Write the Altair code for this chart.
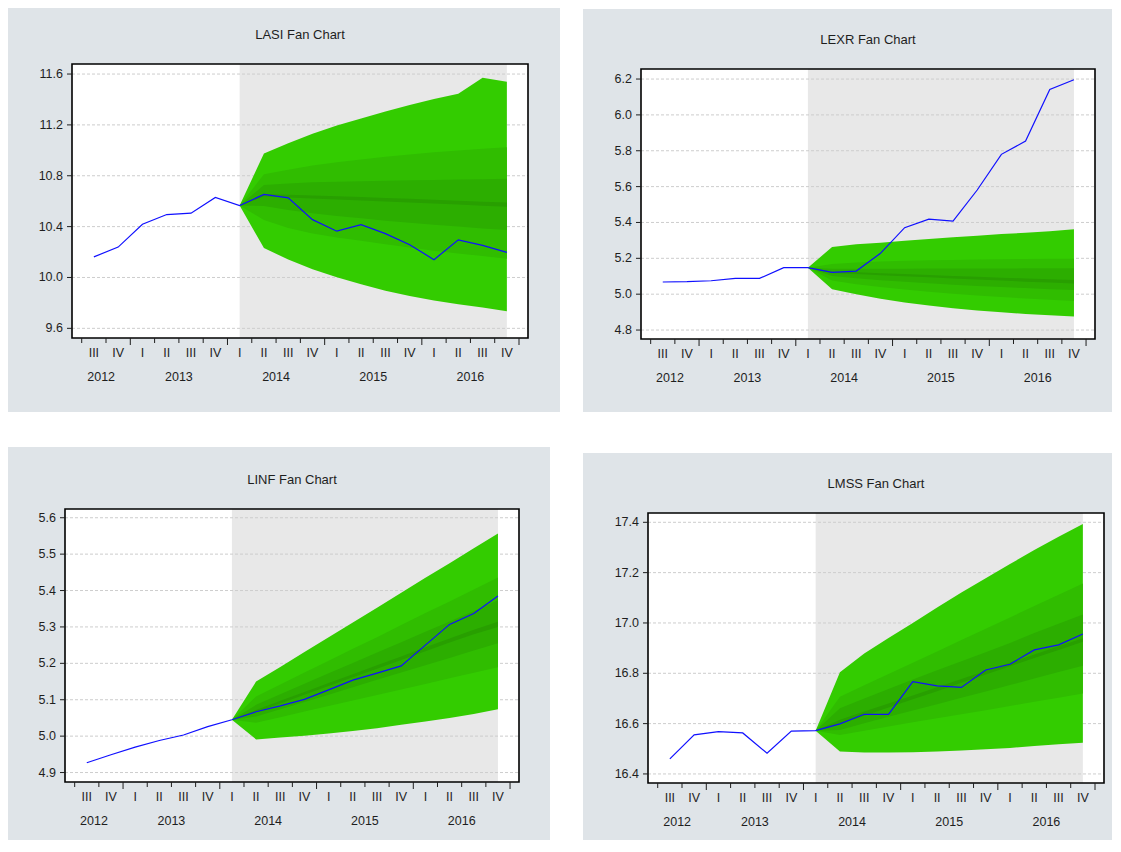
import altair as alt
import pandas as pd

# ---------------- data ----------------
QUARTERS = ["III", "IV", "I", "II", "III", "IV", "I", "II", "III", "IV",
            "I", "II", "III", "IV", "I", "II", "III", "IV"]
QUARTER_YEARS = ["2012", "2012", "2013", "2013", "2013", "2013", "2014", "2014", "2014", "2014",
                 "2015", "2015", "2015", "2015", "2016", "2016", "2016", "2016"]
YEAR_LABELS = ["2012", "2013", "2014", "2015", "2016"]
FORECAST_START = 6  # 2014 I

LASI = [10.162, 10.239, 10.419, 10.495, 10.506, 10.629, 10.566, 10.653, 10.626, 10.455,
        10.364, 10.416, 10.345, 10.258, 10.140, 10.296, 10.252, 10.198]
LASI_OUT_HI = [10.566, 10.976, 11.056, 11.130, 11.195, 11.250, 11.305, 11.357, 11.404, 11.445, 11.570, 11.540]
LASI_OUT_LO = [10.566, 10.232, 10.141, 10.065, 10.002, 9.946, 9.895, 9.854, 9.818, 9.790, 9.764, 9.735]
LASI_B2_HI = [10.566, 10.811, 10.847, 10.880, 10.906, 10.928, 10.950, 10.967, 10.985, 10.999, 11.012, 11.025]
LASI_B2_LO = [10.566, 10.452, 10.390, 10.346, 10.314, 10.288, 10.262, 10.236, 10.211, 10.189, 10.168, 10.148]
LASI_B3_HI = [10.566, 10.727, 10.740, 10.748, 10.753, 10.757, 10.761, 10.764, 10.767, 10.770, 10.773, 10.776]
LASI_B3_LO = [10.566, 10.562, 10.531, 10.505, 10.484, 10.465, 10.447, 10.430, 10.414, 10.400, 10.386, 10.374]
LASI_IN_HI = [10.566, 10.656, 10.651, 10.645, 10.639, 10.633, 10.626, 10.619, 10.611, 10.604, 10.596, 10.589]
LASI_IN_LO = [10.566, 10.636, 10.629, 10.621, 10.613, 10.605, 10.597, 10.589, 10.581, 10.573, 10.565, 10.557]

LEXR = [5.068, 5.070, 5.075, 5.088, 5.088, 5.148, 5.148, 5.122, 5.129, 5.228,
        5.371, 5.419, 5.408, 5.581, 5.780, 5.854, 6.142, 6.196]
LEXR_OUT_HI = [5.148, 5.263, 5.278, 5.287, 5.298, 5.308, 5.317, 5.326, 5.335, 5.343, 5.351, 5.362]
LEXR_OUT_LO = [5.148, 5.027, 4.999, 4.974, 4.954, 4.937, 4.922, 4.909, 4.899, 4.890, 4.882, 4.876]
LEXR_B2_HI = [5.148, 5.168, 5.177, 5.182, 5.186, 5.189, 5.191, 5.193, 5.195, 5.196, 5.197, 5.198]
LEXR_B2_LO = [5.148, 5.076, 5.056, 5.040, 5.026, 5.014, 5.003, 4.993, 4.984, 4.976, 4.969, 4.962]
LEXR_B3_HI = [5.148, 5.142, 5.142, 5.142, 5.142, 5.143, 5.143, 5.143, 5.143, 5.144, 5.144, 5.144]
LEXR_B3_LO = [5.148, 5.101, 5.089, 5.078, 5.069, 5.061, 5.053, 5.046, 5.040, 5.034, 5.028, 5.023]
LEXR_IN_HI = [5.148, 5.127, 5.122, 5.117, 5.112, 5.107, 5.102, 5.097, 5.092, 5.088, 5.083, 5.079]
LEXR_IN_LO = [5.148, 5.118, 5.112, 5.106, 5.100, 5.094, 5.088, 5.082, 5.076, 5.070, 5.065, 5.060]

LINF = [4.927, 4.949, 4.970, 4.988, 5.003, 5.026, 5.045, 5.067, 5.083, 5.101,
        5.127, 5.154, 5.173, 5.193, 5.250, 5.307, 5.337, 5.385]
LINF_OUT_HI = [5.045, 5.150, 5.190, 5.231, 5.272, 5.312, 5.353, 5.394, 5.435, 5.475, 5.516, 5.557]
LINF_OUT_LO = [5.045, 4.991, 4.996, 5.001, 5.007, 5.014, 5.022, 5.031, 5.040, 5.050, 5.061, 5.074]
LINF_B2_HI = [5.045, 5.109, 5.142, 5.175, 5.207, 5.240, 5.272, 5.305, 5.338, 5.370, 5.403, 5.436]
LINF_B2_LO = [5.045, 5.037, 5.052, 5.068, 5.083, 5.098, 5.113, 5.128, 5.143, 5.159, 5.174, 5.189]
LINF_B3_HI = [5.045, 5.086, 5.115, 5.144, 5.173, 5.201, 5.230, 5.258, 5.287, 5.315, 5.344, 5.373]
LINF_B3_LO = [5.045, 5.054, 5.074, 5.094, 5.114, 5.134, 5.155, 5.175, 5.195, 5.215, 5.235, 5.255]
LINF_IN_HI = [5.045, 5.072, 5.097, 5.121, 5.146, 5.170, 5.195, 5.219, 5.244, 5.268, 5.292, 5.314]
LINF_IN_LO = [5.045, 5.066, 5.090, 5.114, 5.138, 5.162, 5.185, 5.209, 5.233, 5.257, 5.280, 5.300]

LMSS = [16.460, 16.555, 16.568, 16.563, 16.482, 16.570, 16.572, 16.599, 16.637, 16.637,
        16.767, 16.750, 16.744, 16.813, 16.836, 16.893, 16.913, 16.956]
LMSS_OUT_HI = [16.572, 16.804, 16.879, 16.940, 17.000, 17.061, 17.121, 17.178, 17.234, 17.290, 17.343, 17.393]
LMSS_OUT_LO = [16.572, 16.489, 16.485, 16.485, 16.486, 16.489, 16.493, 16.498, 16.503, 16.511, 16.518, 16.524]
LMSS_B2_HI = [16.572, 16.707, 16.752, 16.797, 16.842, 16.887, 16.932, 16.977, 17.022, 17.067, 17.112, 17.157]
LMSS_B2_LO = [16.572, 16.555, 16.572, 16.589, 16.605, 16.621, 16.637, 16.653, 16.670, 16.687, 16.703, 16.720]
LMSS_B3_HI = [16.572, 16.661, 16.700, 16.738, 16.775, 16.812, 16.848, 16.884, 16.920, 16.960, 16.997, 17.034]
LMSS_B3_LO = [16.572, 16.575, 16.601, 16.627, 16.652, 16.677, 16.703, 16.728, 16.753, 16.779, 16.805, 16.830]
LMSS_IN_HI = [16.572, 16.615, 16.648, 16.680, 16.712, 16.745, 16.777, 16.810, 16.842, 16.875, 16.907, 16.939]
LMSS_IN_LO = [16.572, 16.598, 16.631, 16.664, 16.697, 16.729, 16.762, 16.795, 16.828, 16.861, 16.893, 16.925]

LASI_TICKS = [9.6, 10.0, 10.4, 10.8, 11.2, 11.6]
LEXR_TICKS = [4.8, 5.0, 5.2, 5.4, 5.6, 5.8, 6.0, 6.2]
LINF_TICKS = [4.9, 5.0, 5.1, 5.2, 5.3, 5.4, 5.5, 5.6]
LMSS_TICKS = [16.4, 16.6, 16.8, 17.0, 17.2, 17.4]

# ---------------- styles ----------------
FONT = "Liberation Sans"
TXT = "#1e1e1e"
BG = "#dfe4e8"
SHADE = "#e8e8e8"
GRID = "#cdcdcd"
LINE = "#1010ff"
BAND_COLORS = ["#33cc00", "#30bd00", "#2cae00", "#289f00"]
XDOM = [-0.9, 17.87]
QNUM = {"I": 1, "II": 2, "III": 3, "IV": 4}


def panel(title, values, bands, ydom, yticks, cell, frame, bg_top=0):
    """cell = (Wp, Hp) whole panel; frame = (fx, fy, W, H) plot frame inside the panel."""
    Wp, Hp = cell
    fx, fy, W, H = frame
    kx = (XDOM[1] - XDOM[0]) / W
    ky = (ydom[1] - ydom[0]) / H
    xs = alt.Scale(domain=[XDOM[0] - fx * kx, XDOM[1] + (Wp - fx - W) * kx], nice=False, zero=False)
    ys = alt.Scale(domain=[ydom[0] - (Hp - fy - H) * ky, ydom[1] + fy * ky], nice=False, zero=False)
    X = lambda f: alt.X(f, scale=xs, axis=None)
    Y = lambda f: alt.Y(f, scale=ys, axis=None)
    one = pd.DataFrame({"k": [0]})
    n = len(QUARTERS)
    layers = []
    # cell extent (invisible) and panel background
    layers.append(alt.Chart(one).mark_rect(fill="#ffffff", fillOpacity=0, opacity=0).encode(
        x=alt.value(0), x2=alt.value(Wp), y=alt.value(0), y2=alt.value(Hp)))
    layers.append(alt.Chart(one).mark_rect(fill=BG).encode(
        x=alt.value(0), x2=alt.value(Wp), y=alt.value(bg_top), y2=alt.value(Hp)))
    layers.append(alt.Chart(one).mark_rect(fill="white").encode(
        x=alt.value(fx), x2=alt.value(fx + W), y=alt.value(fy), y2=alt.value(fy + H)))
    # forecast shading
    shade = pd.DataFrame({"a": [FORECAST_START], "b": [n - 1]})
    layers.append(alt.Chart(shade).mark_rect(fill=SHADE).encode(
        x=X("a:Q"), x2="b:Q", y=alt.value(fy), y2=alt.value(fy + H)))
    # grid
    grid = pd.DataFrame({"v": yticks})
    layers.append(alt.Chart(grid).mark_rule(color=GRID, strokeDash=[3, 2], strokeWidth=1).encode(
        y=Y("v:Q"), x=alt.value(fx), x2=alt.value(fx + W)))
    # fan bands
    fc_idx = list(range(FORECAST_START, n))
    for bi, (lo, hi) in enumerate(bands):
        df = pd.DataFrame({"i": fc_idx, "lo": lo, "hi": hi})
        layers.append(alt.Chart(df).mark_area(color=BAND_COLORS[bi], opacity=1, interpolate="linear").encode(
            x=X("i:Q"), y=Y("lo:Q"), y2="hi:Q"))
    # actual series
    ln = pd.DataFrame({"i": list(range(n)), "v": values})
    layers.append(alt.Chart(ln).mark_line(color=LINE, strokeWidth=1.2).encode(x=X("i:Q"), y=Y("v:Q")))
    # frame
    layers.append(alt.Chart(one).mark_rect(fill="#ffffff", fillOpacity=0, stroke="black", strokeWidth=1.6).encode(
        x=alt.value(fx), x2=alt.value(fx + W), y=alt.value(fy), y2=alt.value(fy + H)))
    # y ticks and labels
    layers.append(alt.Chart(grid).mark_rule(color=TXT, strokeWidth=1).encode(
        y=Y("v:Q"), x=alt.value(fx - 5), x2=alt.value(fx)))
    layers.append(alt.Chart(grid).mark_text(font=FONT, fontSize=12.5, color=TXT, align="right", baseline="middle").encode(
        y=Y("v:Q"), x=alt.value(fx - 9), text=alt.Text("v:Q", format=".1f")))
    # x ticks
    q0 = QNUM[QUARTERS[0]]
    minor, major = [], []
    for k in range(n + 1):
        qn = (q0 - 1 + k) % 4 + 1
        (major if qn == 1 else minor).append(k - 0.5)
    layers.append(alt.Chart(pd.DataFrame({"t": minor})).mark_rule(color=TXT, strokeWidth=1).encode(
        x=X("t:Q"), y=alt.value(fy + H), y2=alt.value(fy + H + 5)))
    layers.append(alt.Chart(pd.DataFrame({"t": major})).mark_rule(color=TXT, strokeWidth=1).encode(
        x=X("t:Q"), y=alt.value(fy + H), y2=alt.value(fy + H + 7)))
    # quarter labels
    ql = pd.DataFrame({"i": list(range(n)), "q": QUARTERS})
    layers.append(alt.Chart(ql).mark_text(font=FONT, fontSize=12.5, color=TXT, baseline="middle", align="center").encode(
        x=X("i:Q"), y=alt.value(fy + H + 15), text="q:N"))
    # year labels, centred on each year's span clipped to the axis range
    ypos = []
    for yl in YEAR_LABELS:
        ks = [k for k, yy in enumerate(QUARTER_YEARS) if yy == yl]
        start = ks[0] - (QNUM[QUARTERS[ks[0]]] - 1) - 0.5
        end = start + 4
        ypos.append((max(start, XDOM[0]) + min(end, XDOM[1])) / 2)
    yl_df = pd.DataFrame({"x": ypos, "y": YEAR_LABELS})
    layers.append(alt.Chart(yl_df).mark_text(font=FONT, fontSize=12.5, color=TXT, baseline="middle", align="center").encode(
        x=X("x:Q"), y=alt.value(fy + H + 39), text="y:N"))
    # title
    layers.append(alt.Chart(pd.DataFrame({"t": [title]})).mark_text(
        font=FONT, fontSize=13, color=TXT, baseline="middle", align="center").encode(
        x=alt.value(fx + W / 2), y=alt.value(fy - 29), text="t:N"))
    return alt.layer(*layers).properties(width=Wp, height=Hp)


p1 = panel("LASI Fan Chart", LASI,
           [(LASI_OUT_LO, LASI_OUT_HI), (LASI_B2_LO, LASI_B2_HI), (LASI_B3_LO, LASI_B3_HI), (LASI_IN_LO, LASI_IN_HI)],
           [9.524, 11.679], LASI_TICKS, (552, 404), (64, 56, 456, 274))
p2 = panel("LEXR Fan Chart", LEXR,
           [(LEXR_OUT_LO, LEXR_OUT_HI), (LEXR_B2_LO, LEXR_B2_HI), (LEXR_B3_LO, LEXR_B3_HI), (LEXR_IN_LO, LEXR_IN_HI)],
           [4.750, 6.256], LEXR_TICKS, (529, 404), (58, 61, 454, 270), bg_top=1)
p3 = panel("LINF Fan Chart", LINF,
           [(LINF_OUT_LO, LINF_OUT_HI), (LINF_B2_LO, LINF_B2_HI), (LINF_B3_LO, LINF_B3_HI), (LINF_IN_LO, LINF_IN_HI)],
           [4.874, 5.624], LINF_TICKS, (542, 393), (57, 62, 454, 273))
p4 = panel("LMSS Fan Chart", LMSS,
           [(LMSS_OUT_LO, LMSS_OUT_HI), (LMSS_B2_LO, LMSS_B2_HI), (LMSS_B3_LO, LMSS_B3_HI), (LMSS_IN_LO, LMSS_IN_HI)],
           [16.364, 17.437], LMSS_TICKS, (529, 393), (65, 66, 456, 270), bg_top=6)

row1 = alt.hconcat(p1, p2, spacing=23)
row2 = alt.hconcat(p3, p4, spacing=33)
chart = alt.vconcat(row1, row2, spacing=35).properties(padding=0, background="white").configure_view(strokeWidth=0)

chart.save("out.html", embed_options={"renderer": "svg", "actions": False})
